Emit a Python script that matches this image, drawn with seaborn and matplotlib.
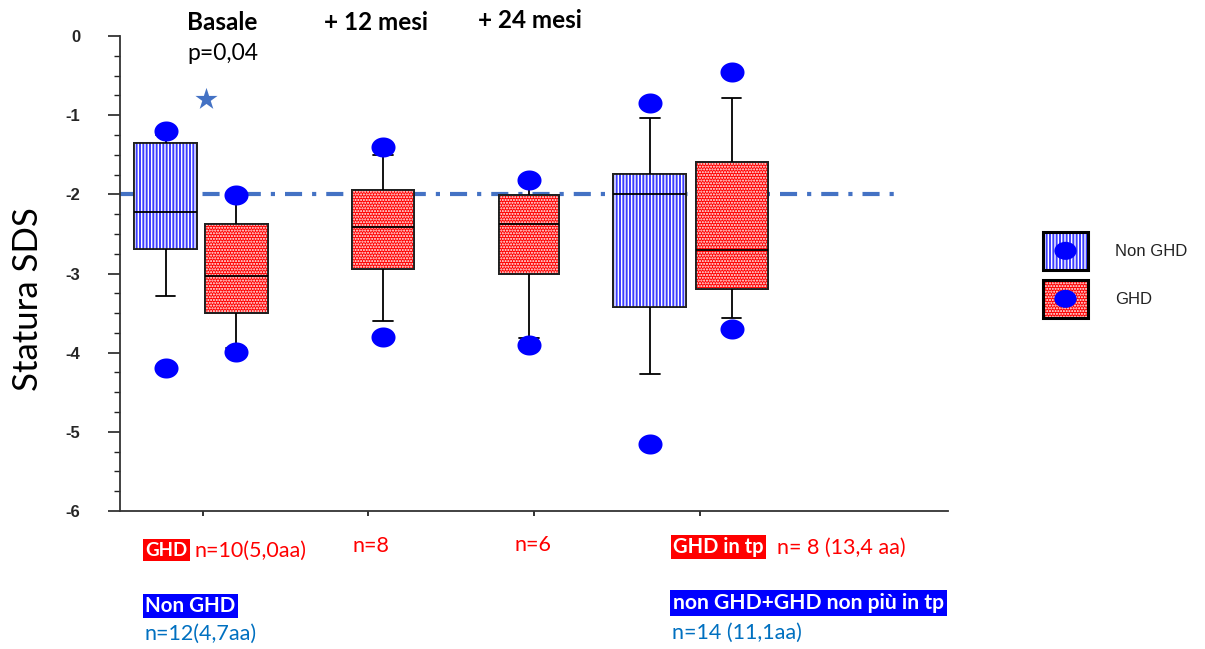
import numpy as np
import pandas as pd
import matplotlib
matplotlib.use("Agg")
import matplotlib.pyplot as plt
import seaborn as sns
from matplotlib.path import Path
from matplotlib.patches import Patch, PathPatch, Ellipse
from matplotlib.ticker import MultipleLocator, FixedLocator, NullFormatter
from matplotlib.legend_handler import HandlerTuple, HandlerBase

# ---------------- data ----------------
groups = ["Non GHD basale", "GHD basale", "GHD +12 mesi", "GHD +24 mesi",
          "Non GHD tp", "GHD tp"]
kind = ["Non GHD", "GHD", "GHD", "GHD", "Non GHD", "GHD"]
whisker_low = [-3.28, -3.94, -3.60, -3.81, -4.27, -3.56]
q1 = [-2.69, -3.50, -2.94, -3.01, -3.42, -3.19]
median = [-2.22, -3.03, -2.41, -2.37, -2.00, -2.70]
q3 = [-1.35, -2.37, -1.94, -2.01, -1.74, -1.59]
whisker_high = [-1.25, -2.03, -1.50, -1.86, -1.03, -0.78]
outlier_high = [-1.20, -2.01, -1.40, -1.82, -0.85, -0.46]
outlier_low = [-4.19, -3.99, -3.80, -3.90, -5.16, -3.70]
reference_sds = -2.0
star_value = -0.79
ytick_values = [0, -1, -2, -3, -4, -5, -6]

# ---------------- layout ----------------
positions = [0.775, 1.203, 2.089, 2.970, 3.698, 4.193]
widths = [0.38, 0.38, 0.374, 0.362, 0.44, 0.435]
BLUE_FILL = "#3c3cff"
RED_FILL = "#ff0000"
DOT = "#0000ff"
LINE_BLUE = "#4472C4"

W, H = 1205, 649
sns.set_theme(style="white")
plt.rcParams["hatch.linewidth"] = 1.0
plt.rcParams["font.family"] = ["Lato", "DejaVu Sans"]

fig = plt.figure(figsize=(W / 100, H / 100), dpi=100)
ax = fig.add_axes([120 / W, 1 - 511 / H, (948 - 120) / W, (511 - 36) / H])


def P(x, y):
    return (x / W, 1 - y / H)


# ellipse marker
t = np.linspace(0, 2 * np.pi, 60)
ell = Path(np.column_stack([1.2 * np.cos(t), np.sin(t)]), closed=True)

# reference line (behind boxes)
ax.plot([0.5, 5.19], [reference_sds, reference_sds], color=LINE_BLUE, lw=3,
        dashes=(4.1, 2.4, 1.0, 2.4), zorder=0.5, dash_capstyle="butt")

for i in range(len(groups)):
    vals = [whisker_low[i], q1[i], median[i], q3[i], whisker_high[i]]
    df = pd.DataFrame({"pos": [positions[i]] * 5, "val": vals})
    fill = BLUE_FILL if kind[i] == "Non GHD" else RED_FILL
    n0 = len(ax.patches)
    sns.boxplot(data=df, x="pos", y="val", native_scale=True, orient="x",
                width=widths[i], whis=(0, 100), color=fill, saturation=1,
                linecolor="black", linewidth=1.3, showfliers=False,
                capwidths=0.12, ax=ax)
    for p in ax.patches[n0:]:
        p.set_zorder(1)
        hp = PathPatch(p.get_path(), transform=p.get_transform(),
                       facecolor="none", edgecolor="white", lw=0,
                       hatch="|||||" if kind[i] == "Non GHD" else "......",
                       zorder=1.1)
        ax.add_patch(hp)
        ep = PathPatch(p.get_path(), transform=p.get_transform(),
                       facecolor="none", edgecolor="#222222", lw=1.3, zorder=1.2)
        ax.add_patch(ep)

# outlier dots
dots = pd.DataFrame({"pos": positions + positions,
                     "val": outlier_high + outlier_low})
sns.scatterplot(data=dots, x="pos", y="val", marker=ell, s=300, color=DOT,
                linewidth=0, zorder=5, ax=ax, legend=False)

# significance star
sns.scatterplot(x=[1.02], y=[star_value], marker="*", s=280, color=LINE_BLUE,
                linewidth=0, zorder=5, ax=ax, legend=False)

# axes styling
ax.set_xlim(0.5, 5.5)
ax.set_ylim(-6, 0)
ax.set_xlabel("")
ax.set_ylabel("Statura SDS", fontsize=25, family=["Lato", "DejaVu Sans"],
              color="black")
ax.yaxis.set_label_coords(-0.092, 0.446)
for s in ["top", "right"]:
    ax.spines[s].set_visible(False)
for s in ["left", "bottom"]:
    ax.spines[s].set_color("#333333")
    ax.spines[s].set_linewidth(1.3)
ax.xaxis.set_major_locator(FixedLocator([1, 2, 3, 4]))
ax.xaxis.set_major_formatter(NullFormatter())
ax.tick_params(axis="x", which="major", direction="out", length=3.5,
               width=1.3, color="#222222", bottom=True)
ax.yaxis.set_minor_locator(MultipleLocator(0.25))
ax.set_yticks(ytick_values, labels=[str(v) for v in ytick_values],
              fontweight="bold", fontsize=12,
              fontfamily=["Liberation Sans", "DejaVu Sans"])
ax.tick_params(axis="y", which="major", direction="out", length=8.5,
               width=1.2, color="#222222", pad=20, left=True, labelsize=12,
               labelfontfamily="Liberation Sans")
ax.tick_params(axis="y", which="minor", direction="out", length=4.3,
               width=1.0, color="#222222", left=True)
for lab in ax.get_yticklabels():
    lab.set_fontweight("bold")
ax.grid(False)


# legend
class EllipseHandler(HandlerBase):
    def create_artists(self, legend, orig_handle, xdescent, ydescent, width,
                       height, fontsize, trans):
        e = Ellipse((width / 2 - xdescent, height / 2 - ydescent), 16, 13,
                    facecolor=DOT, edgecolor="none", transform=trans)
        return [e]


class EllipseMark:
    pass


def leg_handle(fill, hatch):
    base = Patch(facecolor=fill, edgecolor="none")
    hat = Patch(facecolor="none", edgecolor="white", lw=0, hatch=hatch)
    edge = Patch(facecolor="none", edgecolor="black", lw=2.2)
    return (base, hat, edge, EllipseMark())


leg = ax.legend([leg_handle(BLUE_FILL, "|||||"), leg_handle(RED_FILL, "......")],
                ["Non GHD", "GHD"],
                handler_map={tuple: HandlerTuple(ndivide=1),
                             EllipseMark: EllipseHandler()},
                loc="upper left", bbox_to_anchor=P(1043, 232),
                bbox_transform=fig.transFigure, frameon=False, borderpad=0,
                borderaxespad=0, handlelength=2.7, handleheight=3.1,
                handletextpad=1.62, labelspacing=0.62,
                prop={"family": ["Liberation Sans", "DejaVu Sans"], "size": 12})
for tx in leg.get_texts():
    tx.set_color("#222222")

# top titles
fig.text(*P(187, 22), "Basale", fontsize=17.5, fontweight="bold", ha="left",
         va="center", color="black")
fig.text(*P(187, 54), "p=0,04", fontsize=16.5, ha="left", va="center",
         color="black")
fig.text(*P(324, 22), "+ 12 mesi", fontsize=17.5, fontweight="bold", ha="left",
         va="center", color="black")
fig.text(*P(478, 20), "+ 24 mesi", fontsize=17.5, fontweight="bold", ha="left",
         va="center", color="black")

# bottom annotations
RED_T = "#ff0000"
BLUE_T = "#0070C0"


def tag(x, y, s, bg, fs=14.8):
    fig.text(*P(x, y), s, fontsize=fs, fontweight="bold", color="white",
             ha="left", va="center",
             bbox=dict(boxstyle="square,pad=0.12", facecolor=bg,
                       edgecolor="none"))


tag(145, 550, "GHD", RED_T, 13.5)
fig.text(*P(194, 551), "n=10(5,0aa)", fontsize=15.5, color=RED_T, ha="left",
         va="center")
fig.text(*P(352, 546), "n=8", fontsize=15.5, color=RED_T, ha="left", va="center")
fig.text(*P(514, 545), "n=6", fontsize=15.5, color=RED_T, ha="left", va="center")
tag(145, 606, "Non GHD", "#0000ff")
fig.text(*P(145, 634), "n=12(4,7aa)", fontsize=15.5, color=BLUE_T, ha="left",
         va="center")
tag(673, 547, "GHD in tp", RED_T, 14.5)
fig.text(*P(777, 548), "n= 8 (13,4 aa)", fontsize=15.5, color=RED_T,
         ha="left", va="center")
tag(673, 603, "non GHD+GHD non più in tp", "#0000ff", 15.2)
fig.text(*P(672, 633), "n=14 (11,1aa)", fontsize=15.5, color=BLUE_T,
         ha="left", va="center")

fig.savefig("out.png", dpi=100, facecolor="white")
